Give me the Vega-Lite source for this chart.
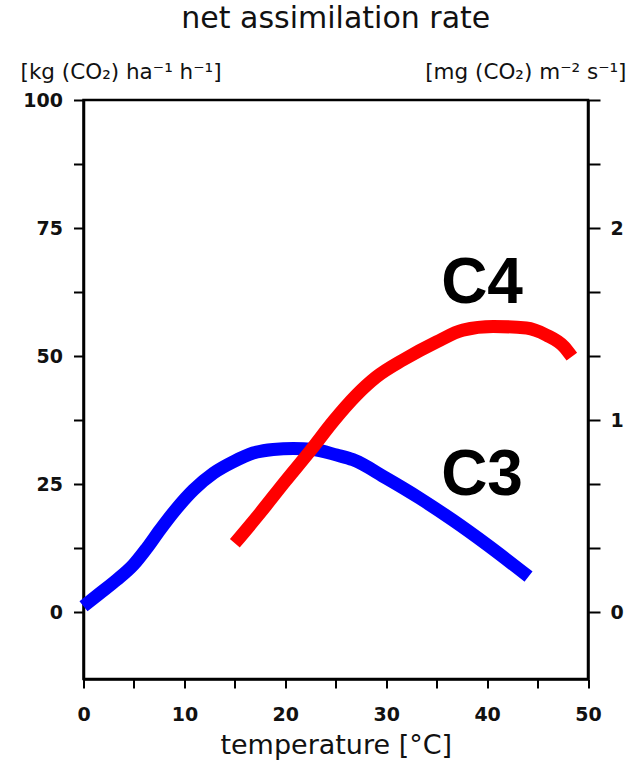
{
  "$schema": "https://vega.github.io/schema/vega-lite/v6.json",
  "width": 504.5,
  "height": 579,
  "autosize": {"type": "none"},
  "padding": {"left": 83.5, "top": 100, "right": 41, "bottom": 84},
  "background": "white",
  "config": {"view": {"stroke": "black", "strokeWidth": 2.5}, "font": "DejaVu Sans"},
  "title": {"text": "net assimilation rate", "fontSize": 30, "font": "DejaVu Sans", "fontWeight": "normal", "color": "#111", "anchor": "middle", "offset": 27},
  "datasets": {
    "curves": [
      {"type": "C3", "temp": 0, "rate": 1.2},
      {"type": "C3", "temp": 1.64, "rate": 3.75},
      {"type": "C3", "temp": 3.29, "rate": 6.34},
      {"type": "C3", "temp": 4.94, "rate": 9.27},
      {"type": "C3", "temp": 6.26, "rate": 12.5},
      {"type": "C3", "temp": 7.58, "rate": 16.1},
      {"type": "C3", "temp": 9.24, "rate": 20.3},
      {"type": "C3", "temp": 10.9, "rate": 23.9},
      {"type": "C3", "temp": 12.9, "rate": 27.2},
      {"type": "C3", "temp": 14.85, "rate": 29.4},
      {"type": "C3", "temp": 16.8, "rate": 31.1},
      {"type": "C3", "temp": 18.8, "rate": 31.8},
      {"type": "C3", "temp": 20.8, "rate": 32.0},
      {"type": "C3", "temp": 22.8, "rate": 31.8},
      {"type": "C3", "temp": 25.1, "rate": 30.7},
      {"type": "C3", "temp": 26.7, "rate": 29.8},
      {"type": "C3", "temp": 30.0, "rate": 26.2},
      {"type": "C3", "temp": 33.3, "rate": 22.3},
      {"type": "C3", "temp": 36.6, "rate": 18.0},
      {"type": "C3", "temp": 40.0, "rate": 13.2},
      {"type": "C3", "temp": 44.1, "rate": 7.0},
      {"type": "C4", "temp": 15.0, "rate": 13.5},
      {"type": "C4", "temp": 17.5, "rate": 19.4},
      {"type": "C4", "temp": 20.0, "rate": 25.6},
      {"type": "C4", "temp": 22.5, "rate": 31.6},
      {"type": "C4", "temp": 24.8, "rate": 37.4},
      {"type": "C4", "temp": 27.0, "rate": 42.3},
      {"type": "C4", "temp": 29.0, "rate": 45.9},
      {"type": "C4", "temp": 31.7, "rate": 49.3},
      {"type": "C4", "temp": 35.0, "rate": 52.8},
      {"type": "C4", "temp": 37.6, "rate": 55.1},
      {"type": "C4", "temp": 40.6, "rate": 55.8},
      {"type": "C4", "temp": 43.9, "rate": 55.5},
      {"type": "C4", "temp": 45.9, "rate": 54.1},
      {"type": "C4", "temp": 47.6, "rate": 51.9},
      {"type": "C4", "temp": 48.4, "rate": 49.9}
    ],
    "labels": [
      {"label": "C4", "temp": 39.5, "rate": 60.4},
      {"label": "C3", "temp": 39.5, "rate": 22.9}
    ]
  },
  "layer": [
    {
      "mark": {"type": "rule", "color": "black", "strokeWidth": 2},
      "encoding": {
        "y": {
          "datum": 0,
          "type": "quantitative",
          "scale": {"domain": [-13, 100], "nice": false, "zero": false},
          "axis": {
            "orient": "left",
            "values": [0, 12.5, 25, 37.5, 50, 62.5, 75, 87.5, 100],
            "labelExpr": "datum.value % 25 === 0 ? datum.label : ''",
            "tickSize": 10, "tickWidth": 2, "tickColor": "black",
            "domainColor": "black", "domainWidth": 2.5,
            "labelFont": "DejaVu Sans", "labelFontWeight": "bold", "labelFontSize": 19, "labelColor": "#111", "labelPadding": 11,
            "labelFlush": false,
            "grid": false,
            "title": "[kg (CO₂) ha⁻¹ h⁻¹]",
            "titleAngle": 0, "titleAlign": "left", "titleBaseline": "alphabetic",
            "titleX": -63.5, "titleY": -22,
            "titleFont": "DejaVu Sans", "titleFontSize": 21.5, "titleFontWeight": "normal", "titleColor": "#111"
          }
        }
      }
    },
    {
      "data": {"name": "curves"},
      "mark": {"type": "line", "strokeWidth": 13, "interpolate": "monotone", "strokeCap": "butt"},
      "encoding": {
        "x": {
          "field": "temp", "type": "quantitative",
          "scale": {"domain": [0, 50], "nice": false},
          "axis": {
            "values": [0, 5, 10, 15, 20, 25, 30, 35, 40, 45, 50],
            "labelExpr": "datum.value % 10 === 0 ? datum.label : ''",
            "tickSize": 9, "tickWidth": 2, "tickColor": "black",
            "domainColor": "black", "domainWidth": 2.5,
            "labelFont": "DejaVu Sans", "labelFontWeight": "bold", "labelFontSize": 19, "labelColor": "#111", "labelPadding": 17,
            "labelFlush": false,
            "grid": false,
            "title": "temperature [°C]",
            "titleFont": "DejaVu Sans", "titleFontSize": 27, "titleFontWeight": "normal", "titleColor": "#111", "titlePadding": 8
          }
        },
        "y": {
          "field": "rate", "type": "quantitative",
          "scale": {"domain": [-13, 100], "nice": false, "zero": false},
          "axis": {
            "orient": "right",
            "values": [0, 12.5, 25, 37.5, 50, 62.5, 75, 87.5, 100],
            "labelExpr": "datum.value === 0 ? '0' : datum.value === 37.5 ? '1' : datum.value === 75 ? '2' : ''",
            "tickSize": 12, "tickWidth": 2, "tickColor": "black",
            "domainColor": "black", "domainWidth": 2.5,
            "labelFont": "DejaVu Sans", "labelFontWeight": "bold", "labelFontSize": 19, "labelColor": "#111", "labelPadding": 10,
            "labelFlush": false,
            "grid": false,
            "title": "[mg (CO₂) m⁻² s⁻¹]",
            "titleAngle": 0, "titleAlign": "right", "titleBaseline": "alphabetic",
            "titleX": 38, "titleY": -22,
            "titleFont": "DejaVu Sans", "titleFontSize": 21.5, "titleFontWeight": "normal", "titleColor": "#111"
          }
        },
        "color": {
          "field": "type", "type": "nominal",
          "scale": {"domain": ["C3", "C4"], "range": ["#0000ff", "#ff0000"]},
          "legend": null
        }
      }
    },
    {
      "data": {"name": "labels"},
      "mark": {"type": "text", "font": "Liberation Sans", "fontWeight": "bold", "fontSize": 64, "color": "black", "align": "center", "baseline": "alphabetic"},
      "encoding": {
        "x": {"field": "temp", "type": "quantitative", "scale": {"domain": [0, 50], "nice": false}},
        "y": {"field": "rate", "type": "quantitative", "scale": {"domain": [-13, 100], "nice": false, "zero": false}, "axis": null},
        "text": {"field": "label"}
      }
    }
  ],
  "resolve": {"axis": {"y": "independent"}}
}
